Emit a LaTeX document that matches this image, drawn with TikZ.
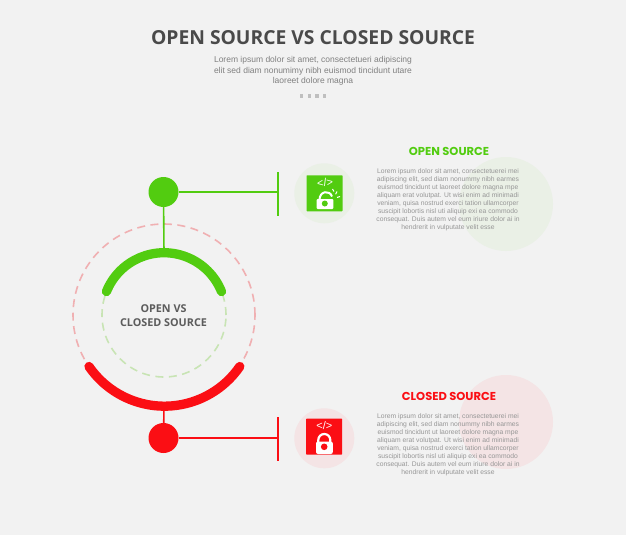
\documentclass[tikz,border=0pt]{standalone}
\usepackage{fontspec}
\setmainfont{Liberation Sans}
\newfontfamily\titlefont{Open Sans}
\newfontfamily\headfont{Poppins}
\definecolor{bgc}{HTML}{F2F2F2}
\definecolor{grn}{HTML}{52CC10}
\definecolor{redc}{HTML}{FB0E14}
\definecolor{lgrn}{HTML}{EAF0E6}
\definecolor{lred}{HTML}{F4E4E5}
\definecolor{dgrn}{HTML}{C8E4B4}
\definecolor{dred}{HTML}{F0B0B2}
\definecolor{titlec}{HTML}{4A4A4A}
\definecolor{bodyc}{HTML}{969696}
\tikzset{
  x=1pt,y=-1pt,
  hub/.style={circle,inner sep=0pt,minimum size=30pt},
  halo/.style={circle,inner sep=0pt,minimum size=60pt},
  blob/.style={circle,inner sep=0pt,minimum size=94pt},
  iconbox/.style={inner sep=0pt,minimum size=36pt,rounded corners=0.6pt},
  bodytext/.style={inner sep=0pt,align=center,text=bodyc,font=\fontsize{6.75}{8}\selectfont},
  headtext/.style={inner sep=0pt,font=\headfont\bfseries\fontsize{11.5}{13}\selectfont},
  link/.style={line width=1.6pt},
  bigarc/.style={line width=9.3pt,line cap=round},
  dashring/.style={line width=1.6pt,dash pattern=on 8pt off 5.5pt},
  dotmark/.style={fill=bodyc!55!bgc,inner sep=0pt,minimum size=3.6pt}
}
\begin{document}
\begin{tikzpicture}
\useasboundingbox (0,0) rectangle (626,535);
\fill[bgc] (0,0) rectangle (626,535);
% title
\node[inner sep=0pt,text=titlec,font=\titlefont\bfseries\fontsize{19.3}{24}\selectfont] (title) at (313,38) {OPEN SOURCE VS CLOSED SOURCE};
\node[inner sep=0pt,align=center,text=bodyc!85!black,font=\fontsize{8.5}{10.2}\selectfont] (sub) at (313,71)
 {Lorem ipsum dolor sit amet, consectetueri adipiscing\\elit sed diam nonumimy nibh euismod tincidunt utare\\laoreet dolore magna};
\foreach \i/\xx in {1/301.5,2/309.5,3/317,4/324.5}{\node[dotmark] (dot\i) at (\xx,96) {};}
% blobs
\node[blob,fill=lgrn] (gblob) at (506,204) {};
\node[blob,fill=lred] (rblob) at (506,422) {};
% rings
\node[circle,draw=dred,dashring,inner sep=0pt,minimum size=182pt] (outerring) at (164,315) {};
\node[circle,draw=dgrn,dashring,inner sep=0pt,minimum size=124pt] (innerring) at (164,315) {};
% arcs
\coordinate (gtop) at (164,253);
\coordinate (rbot) at (164,406.5);
\draw[grn,bigarc] (106.5,291.5) arc[start angle=202,end angle=338,radius=62];
% hubs and links
\coordinate (gend) at (278,192);
\coordinate (gbarA) at (278,172);
\coordinate (gbarB) at (278,216);
\coordinate (rend) at (278,438);
\coordinate (rbarA) at (278,417);
\coordinate (rbarB) at (278,461);
\node[hub,fill=grn] (ghub) at (163.5,192) {};
\node[hub,fill=redc] (rhub) at (163.5,438) {};
\draw[grn,link] (ghub) -- (gtop);
\draw[grn,link] (ghub) -- (gend);
\draw[grn,link] (gbarA) -- (gbarB);
\draw[redc,link] (rhub) -- (rbot);
\draw[redc,link] (rhub) -- (rend);
\draw[redc,link] (rbarA) -- (rbarB);
\draw[redc,bigarc] (89,366.5) arc[start angle=145.5,end angle=34.5,radius=91.5];
\node[inner sep=0pt,align=center,text=titlec!90!white,font=\titlefont\bfseries\fontsize{10.8}{14}\selectfont] (center) at (163.5,316) {OPEN VS\\CLOSED SOURCE};
% icon halos
\node[halo,fill=lgrn] (ghalo) at (324.3,193.3) {};
\node[halo,fill=lred] (rhalo) at (324.3,438.3) {};
\node[iconbox,fill=grn] (gicon) at (324.5,193.3) {};
\node[iconbox,fill=redc] (ricon) at (324.2,436.6) {};
% green icon
\node[inner sep=0pt,text=white,rotate=8,font=\fontsize{11}{12}\selectfont] (gcode) at (325,182.5) {</>};
\draw[white,line width=2pt] (319.5,200) .. controls (319.5,190.5) and (330,190) .. (332,196.5);
\fill[white,rounded corners=1pt] (316.7,199) rectangle (333.3,209);
\fill[grn] (324.8,203.5) circle (3);
\draw[white,line width=1pt] (332.5,189) -- (334,191.5) (337,191.5) -- (335.6,194.2) (340,196.5) -- (337,197.5);
% red icon
\node[inner sep=0pt,text=white,font=\fontsize{11}{12}\selectfont] (rcode) at (324.3,425.3) {</>};
\draw[white,line width=2.2pt] (318.3,444) -- (318.3,440) arc[start angle=180,end angle=360,radius=6] -- (330.3,444);
\fill[white,rounded corners=2pt] (316,441.5) rectangle (332.8,454);
\fill[redc] (324.2,446.8) circle (3.3);
% right text
\node[headtext,text=grn] (ghead) at (449,151) {OPEN SOURCE};
\node[bodytext] (gbody) at (448,199.5)
{Lorem ipsum dolor sit amet, consectetuerei mei\\adipiscing elit, sed diam nonummy nibh earmes\\euismod tincidunt ut laoreet dolore magna mpe\\aliquam erat volutpat. Ut wisi enim ad minimadi\\veniam, quisa nostrud exerci tation ullamcorper\\suscipit lobortis nisl uti aliquip exi ea commodo\\consequat. Duis autem vel eum iriure dolor ai in\\hendrerit in vulputate velit esse};
\node[headtext,text=redc] (rhead) at (449,396) {CLOSED SOURCE};
\node[bodytext] (rbody) at (448,444.5)
{Lorem ipsum dolor sit amet, consectetuerei mei\\adipiscing elit, sed diam nonummy nibh earmes\\euismod tincidunt ut laoreet dolore magna mpe\\aliquam erat volutpat. Ut wisi enim ad minimadi\\veniam, quisa nostrud exerci tation ullamcorper\\suscipit lobortis nisl uti aliquip exi ea commodo\\consequat. Duis autem vel eum iriure dolor ai in\\hendrerit in vulputate velit esse};
\end{tikzpicture}
\end{document}
